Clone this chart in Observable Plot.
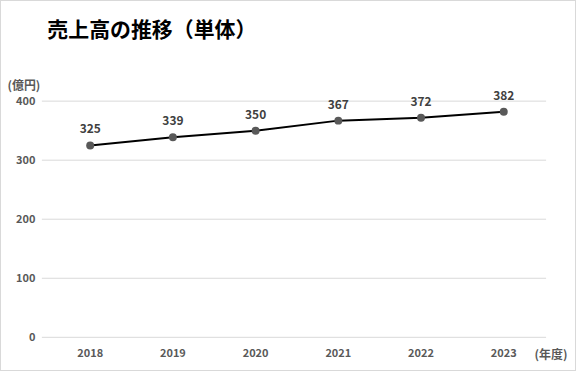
<!DOCTYPE html>
<html><head><meta charset="utf-8">
<script src="https://cdn.jsdelivr.net/npm/d3@7"></script>
<script src="https://cdn.jsdelivr.net/npm/@observablehq/plot@0.6"></script>
<style>
html,body{margin:0;padding:0;background:#fff;}
#wrap{position:relative;width:576px;height:371px;box-sizing:border-box;border:1px solid #d9d9d9;overflow:hidden;}
#wrap svg{position:absolute;left:-1px;top:-1px;}
</style></head>
<body><div id="wrap"></div>
<script>
const years = ["2018","2019","2020","2021","2022","2023"];
const sales = [325,339,350,367,372,382];
const yTicks = [0,100,200,300,400];
const title = "売上高の推移（単体）";
const yUnit = "(億円)";
const xUnit = "(年度)";

const data = years.map((y,i)=>({year:y, value:sales[i]}));
const font = "'Noto Sans CJK JP', 'Noto Sans', sans-serif";

const chart = Plot.plot({
  width: 576, height: 371,
  marginTop: 101, marginBottom: 33, marginLeft: 42, marginRight: 28,
  style: {fontFamily: font, background: "transparent", overflow: "visible"},
  x: {type: "point", domain: years, range: [88, 506], padding: 0, label: null},
  y: {domain: [0, 400], ticks: yTicks, label: null},
  marks: [
    Plot.gridY(yTicks, {stroke: "#d9d9d9", strokeOpacity: 1, strokeWidth: 1}),
    Plot.axisY({ticks: yTicks, tickSize: 0, tickPadding: 7, fontSize: 11, fontWeight: "bold", fill: "#595959", label: null}),
    Plot.axisX({tickSize: 0, tickPadding: 12, fontSize: 11, fontWeight: "bold", fill: "#595959", label: null}),
    Plot.line(data, {x: "year", y: "value", stroke: "#000", strokeWidth: 2}),
    Plot.dot(data, {x: "year", y: "value", r: 4, fill: "#595959", stroke: "none"}),
    Plot.text(data, {x: "year", y: "value", text: d => String(d.value), dy: -16, fontSize: 12, fontWeight: "bold", fill: "#404040"}),
    Plot.text([title], {frameAnchor: "top-left", dx: -42 + 47, dy: -101 + 30, text: d => d, fontSize: 21, fontWeight: "bold", fill: "#000", textAnchor: "start", lineAnchor: "middle"}),
    Plot.text([yUnit], {frameAnchor: "top-left", dx: -42 + 7, dy: -101 + 86, text: d => d, fontSize: 12, fontWeight: "bold", fill: "#595959", textAnchor: "start", lineAnchor: "middle"}),
    Plot.text([xUnit], {frameAnchor: "bottom-right", dx: 28 - 7, dy: 33 - 15, text: d => d, fontSize: 12, fontWeight: "bold", fill: "#595959", textAnchor: "end", lineAnchor: "middle"})
  ]
});
document.getElementById("wrap").appendChild(chart);
</script></body></html>
